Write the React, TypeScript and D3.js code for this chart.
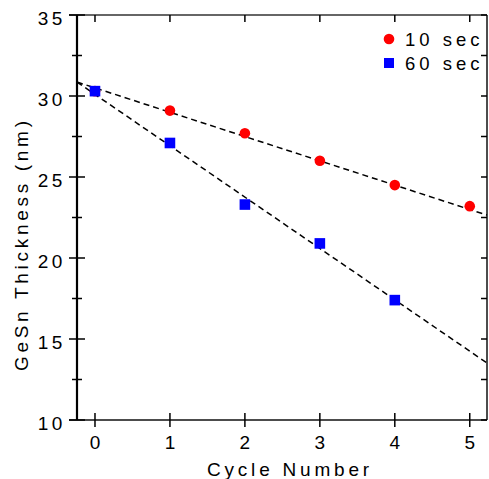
import React, { useRef, useEffect } from "react";
import * as d3 from "d3";

const cycles = [0, 1, 2, 3, 4, 5];
const tenSec = [30.3, 29.1, 27.7, 26.0, 24.5, 23.2];
const sixtySecCycles = [0, 1, 2, 3, 4];
const sixtySec = [30.3, 27.1, 23.3, 20.9, 17.4];

// fitted lines, endpoints at the edges of the frame
const fitX = [-0.24, 5.23];
const fitTen = [30.86, 22.65];
const fitSixty = [30.86, 13.52];

const yTicks = [10, 15, 20, 25, 30, 35];
const yMinor = [12.5, 17.5, 22.5, 27.5, 32.5];
const xTicks = [0, 1, 2, 3, 4, 5];

const width = 489;
const height = 479;
const margin = { top: 15, right: 2, bottom: 59, left: 77 };
const font = "Arial, 'Liberation Sans', sans-serif";

const App: React.FC = () => {
  const svgRef = useRef<SVGSVGElement | null>(null);

  useEffect(() => {
    if (!svgRef.current) return;
    const svg = d3.select(svgRef.current);
    svg.selectAll("*").remove();

    const x = d3
      .scaleLinear()
      .domain([-0.24, 5.23])
      .range([margin.left, width - margin.right]);
    const y = d3
      .scaleLinear()
      .domain([10, 35])
      .range([height - margin.bottom, margin.top]);

    const x0 = x.range()[0];
    const x1 = x.range()[1];
    const yb = y(10);
    const yt = y(35);

    // frame
    svg.append("line").attr("x1", x0 - 8).attr("x2", x1).attr("y1", yt).attr("y2", yt)
      .attr("stroke", "#333").attr("stroke-width", 1.5);
    svg.append("line").attr("x1", x0 - 8).attr("x2", x1).attr("y1", yb).attr("y2", yb)
      .attr("stroke", "#111").attr("stroke-width", 1.5);
    svg.append("line").attr("x1", x0).attr("x2", x0).attr("y1", yt).attr("y2", yb)
      .attr("stroke", "#000").attr("stroke-width", 2.2);
    svg.append("line").attr("x1", x1).attr("x2", x1).attr("y1", yt).attr("y2", yb)
      .attr("stroke", "#111").attr("stroke-width", 1.5);

    // y ticks
    yTicks.forEach((t) => {
      svg.append("line").attr("x1", x0 - 8).attr("x2", x0 + 8).attr("y1", y(t)).attr("y2", y(t))
        .attr("stroke", "#000").attr("stroke-width", 1.5);
      svg.append("line").attr("x1", x1 - 6).attr("x2", x1).attr("y1", y(t)).attr("y2", y(t))
        .attr("stroke", "#000").attr("stroke-width", 1.5);
      svg.append("text").attr("x", 66).attr("y", y(t) + 10)
        .attr("text-anchor", "end").attr("font-family", font).attr("font-size", 19)
        .attr("letter-spacing", 3.6).text(t);
    });
    yMinor.forEach((t) => {
      svg.append("line").attr("x1", x0 - 5).attr("x2", x0 + 5).attr("y1", y(t)).attr("y2", y(t))
        .attr("stroke", "#000").attr("stroke-width", 1.5);
      svg.append("line").attr("x1", x1 - 6).attr("x2", x1).attr("y1", y(t)).attr("y2", y(t))
        .attr("stroke", "#000").attr("stroke-width", 1.5);
    });

    // x ticks
    xTicks.forEach((t) => {
      svg.append("line").attr("x1", x(t)).attr("x2", x(t)).attr("y1", yb - 7).attr("y2", yb + 7)
        .attr("stroke", "#000").attr("stroke-width", 1.5);
      svg.append("line").attr("x1", x(t)).attr("x2", x(t)).attr("y1", yt).attr("y2", yt + 7)
        .attr("stroke", "#000").attr("stroke-width", 1.5);
      svg.append("text").attr("x", x(t)).attr("y", yb + 29)
        .attr("text-anchor", "middle").attr("font-family", font).attr("font-size", 19)
        .text(t);
    });

    // axis titles
    svg.append("text").attr("x", 207).attr("y", 476)
      .attr("font-family", font).attr("font-size", 19)
      .attr("letter-spacing", 3.8).text("Cycle Number");
    svg.append("text")
      .attr("transform", `translate(28,371) rotate(-90)`)
      .attr("font-family", font).attr("font-size", 19)
      .attr("letter-spacing", 3.7).text("GeSn Thickness (nm)");

    // fit lines
    const line = d3.line<[number, number]>().x((d) => x(d[0])).y((d) => y(d[1]));
    [fitTen, fitSixty].forEach((fit) => {
      svg.append("path")
        .datum(fitX.map((v, i) => [v, fit[i]] as [number, number]))
        .attr("fill", "none").attr("stroke", "#000").attr("stroke-width", 1.5)
        .attr("stroke-dasharray", "6,4").attr("d", line);
    });

    // markers
    svg.append("g").selectAll("circle").data(cycles).join("circle")
      .attr("cx", (d) => x(d)).attr("cy", (d, i) => y(tenSec[i])).attr("r", 5.3)
      .attr("fill", "#ff0000");
    svg.append("g").selectAll("rect").data(sixtySecCycles).join("rect")
      .attr("x", (d) => x(d) - 5.3).attr("y", (d, i) => y(sixtySec[i]) - 5.3)
      .attr("width", 10.6).attr("height", 10.6).attr("fill", "#0000ff");

    // legend
    svg.append("circle").attr("cx", 389).attr("cy", 39).attr("r", 5.3).attr("fill", "#ff0000");
    svg.append("text").attr("x", 405).attr("y", 46).attr("font-family", font)
      .attr("font-size", 18.5).attr("letter-spacing", 4).text("10 sec");
    svg.append("rect").attr("x", 384).attr("y", 58).attr("width", 10).attr("height", 10)
      .attr("fill", "#0000ff");
    svg.append("text").attr("x", 405).attr("y", 70).attr("font-family", font)
      .attr("font-size", 18.5).attr("letter-spacing", 4).text("60 sec");
  }, []);

  return (
    <svg
      ref={svgRef}
      width={width}
      height={height}
      style={{ position: "absolute", left: 0, top: 0, background: "#fff" }}
    />
  );
};

export default App;
